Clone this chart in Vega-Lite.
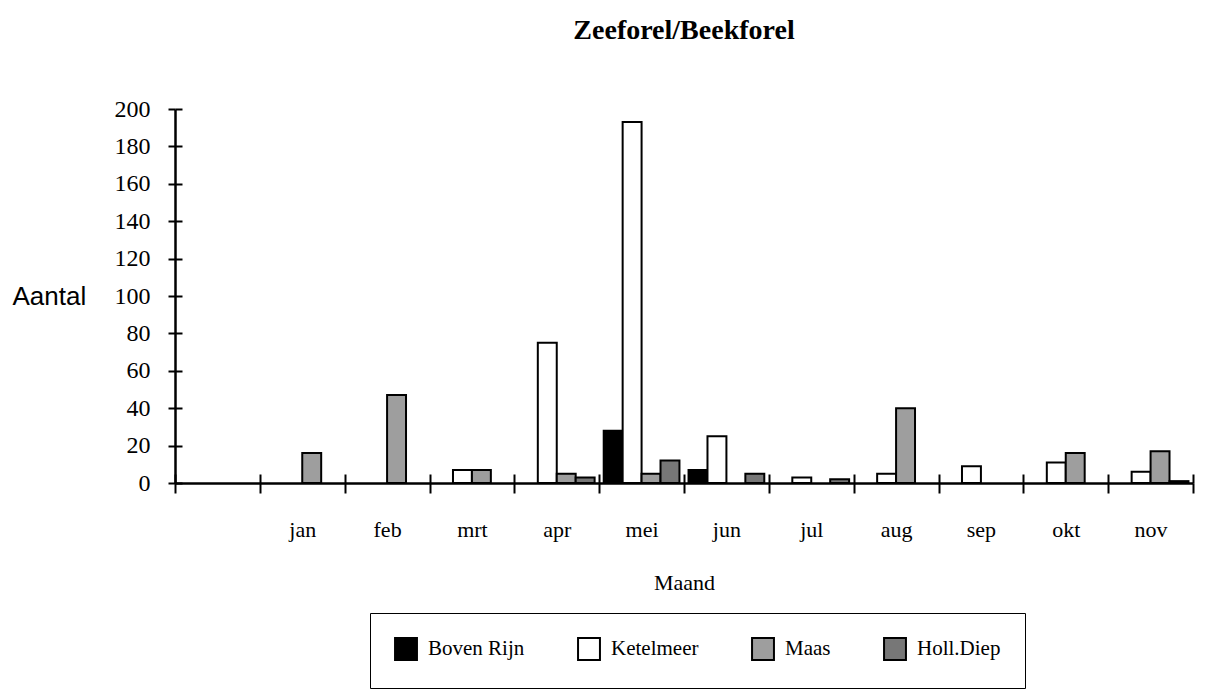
{
  "$schema": "https://vega.github.io/schema/vega-lite/v6.json",
  "width": 1018,
  "height": 374,
  "autosize": "none",
  "padding": {"left": 175, "top": 109, "right": 37, "bottom": 216},
  "background": "white",
  "config": {"view": {"stroke": null}, "font": "Liberation Serif"},
  "title": {"text": "Zeeforel/Beekforel", "font": "Liberation Serif", "fontSize": 28, "fontWeight": "bold", "anchor": "middle", "offset": 52, "color": "black"},
  "data": {"values": [
    {"maand": "jan", "gebied": "Maas", "aantal": 16},
    {"maand": "feb", "gebied": "Maas", "aantal": 47},
    {"maand": "mrt", "gebied": "Ketelmeer", "aantal": 7},
    {"maand": "mrt", "gebied": "Maas", "aantal": 7},
    {"maand": "apr", "gebied": "Ketelmeer", "aantal": 75},
    {"maand": "apr", "gebied": "Maas", "aantal": 5},
    {"maand": "apr", "gebied": "Holl.Diep", "aantal": 3},
    {"maand": "mei", "gebied": "Boven Rijn", "aantal": 28},
    {"maand": "mei", "gebied": "Ketelmeer", "aantal": 193},
    {"maand": "mei", "gebied": "Maas", "aantal": 5},
    {"maand": "mei", "gebied": "Holl.Diep", "aantal": 12},
    {"maand": "jun", "gebied": "Boven Rijn", "aantal": 7},
    {"maand": "jun", "gebied": "Ketelmeer", "aantal": 25},
    {"maand": "jun", "gebied": "Holl.Diep", "aantal": 5},
    {"maand": "jul", "gebied": "Ketelmeer", "aantal": 3},
    {"maand": "jul", "gebied": "Holl.Diep", "aantal": 2},
    {"maand": "aug", "gebied": "Ketelmeer", "aantal": 5},
    {"maand": "aug", "gebied": "Maas", "aantal": 40},
    {"maand": "sep", "gebied": "Ketelmeer", "aantal": 9},
    {"maand": "okt", "gebied": "Ketelmeer", "aantal": 11},
    {"maand": "okt", "gebied": "Maas", "aantal": 16},
    {"maand": "nov", "gebied": "Ketelmeer", "aantal": 6},
    {"maand": "nov", "gebied": "Maas", "aantal": 17},
    {"maand": "nov", "gebied": "Holl.Diep", "aantal": 1}
  ]},
  "layer": [
    {
      "mark": {"type": "bar", "stroke": "black", "strokeWidth": 2},
      "encoding": {
        "x": {
          "field": "maand", "type": "nominal",
          "scale": {"domain": [" ", "jan", "feb", "mrt", "apr", "mei", "jun", "jul", "aug", "sep", "okt", "nov"], "paddingInner": 0, "paddingOuter": 0},
          "axis": {"title": "Maand", "titleFont": "Liberation Serif", "titleFontSize": 22, "titleFontWeight": "normal", "titleColor": "black", "titleBaseline": "middle", "titleY": 99,
                   "labelAngle": 0, "labelFont": "Liberation Serif", "labelFontSize": 22, "labelColor": "black", "labelPadding": 26,
                   "tickBand": "extent", "tickSize": 10, "tickWidth": 2, "tickColor": "black", "domainColor": "black", "domainWidth": 2.5, "grid": false}
        },
        "xOffset": {"field": "gebied", "type": "nominal", "scale": {"domain": ["Boven Rijn", "Ketelmeer", "Maas", "Holl.Diep"], "paddingInner": 0, "paddingOuter": 0.24}},
        "y": {
          "field": "aantal", "type": "quantitative",
          "scale": {"domain": [0, 200], "nice": false},
          "axis": {"title": "Aantal", "titleFont": "Liberation Sans", "titleFontSize": 26, "titleFontWeight": "normal", "titleColor": "black", "titleAngle": 0, "titleAlign": "left", "titleBaseline": "middle", "titleX": -163, "titleY": 187,
                   "values": [0, 20, 40, 60, 80, 100, 120, 140, 160, 180, 200],
                   "labelFont": "Liberation Serif", "labelFontSize": 24, "labelColor": "black", "labelPadding": 18,
                   "tickSize": 7, "tickWidth": 2, "tickColor": "black", "domainColor": "black", "domainWidth": 2.5, "grid": false}
        },
        "fill": {
          "field": "gebied", "type": "nominal",
          "scale": {"domain": ["Boven Rijn", "Ketelmeer", "Maas", "Holl.Diep"], "range": ["black", "white", "#9e9e9e", "#777777"]},
          "legend": {"orient": "none", "legendX": 195, "legendY": 504, "direction": "horizontal", "columns": 4, "title": null,
                     "symbolType": "square", "symbolSize": 480, "symbolStrokeColor": "black", "symbolStrokeWidth": 2,
                     "labelFont": "Liberation Serif", "labelFontSize": 21, "labelColor": "black", "labelOffset": 10,
                     "columnPadding": 49, "padding": 24, "strokeColor": "black"}
        }
      }
    },
    {
      "mark": {"type": "bar", "opacity": 0},
      "encoding": {
        "x": {"field": "maand", "type": "nominal",
              "axis": {"orient": "top", "offset": -374, "title": null, "labels": false, "domain": false, "tickBand": "extent", "tickSize": 9, "tickWidth": 2, "tickColor": "black", "grid": false}},
        "xOffset": {"field": "gebied", "type": "nominal"},
        "y": {"field": "aantal", "type": "quantitative",
              "axis": {"orient": "right", "offset": -1018, "title": null, "labels": false, "domain": false, "values": [0, 20, 40, 60, 80, 100, 120, 140, 160, 180, 200], "tickSize": 7, "tickWidth": 2, "tickColor": "black", "grid": false}}
      }
    }
  ],
  "resolve": {"axis": {"x": "independent", "y": "independent"}}
}
